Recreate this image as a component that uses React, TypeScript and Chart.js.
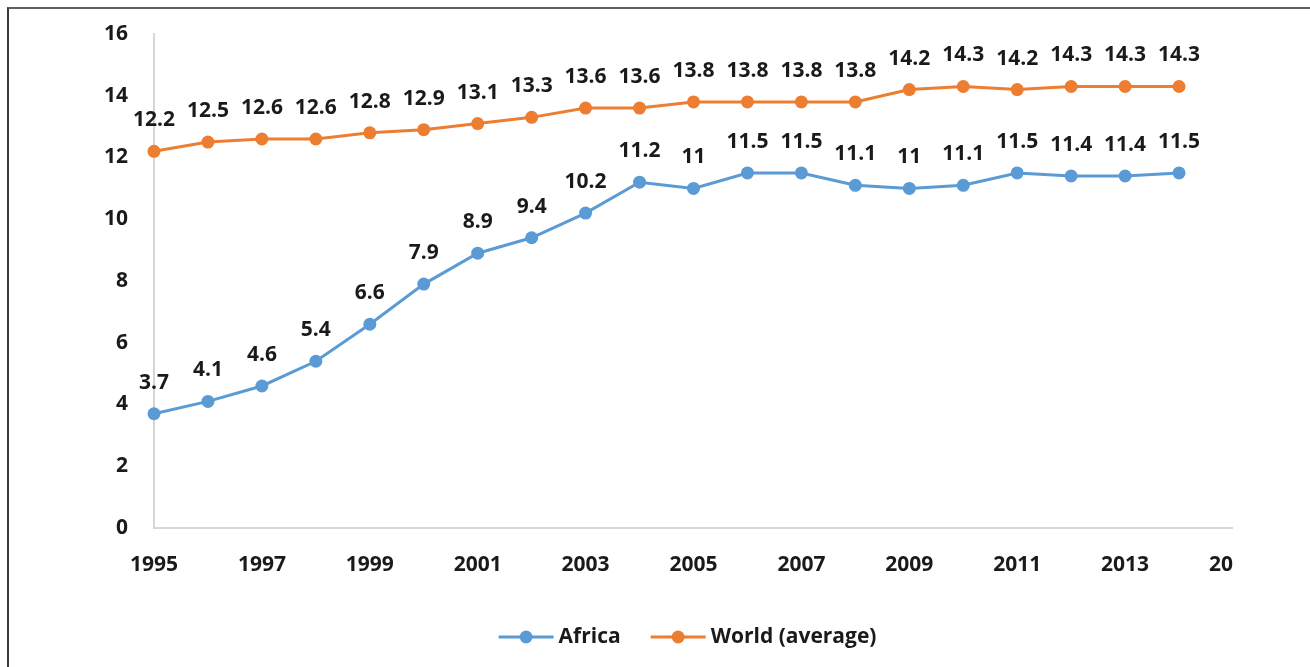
import { useEffect, useRef } from "react";
import { Chart, registerables } from "chart.js";

Chart.register(...registerables);

// Years covered by both series
const years = [
  1995, 1996, 1997, 1998, 1999, 2000, 2001, 2002, 2003, 2004,
  2005, 2006, 2007, 2008, 2009, 2010, 2011, 2012, 2013, 2014,
];

const africa = [
  3.7, 4.1, 4.6, 5.4, 6.6, 7.9, 8.9, 9.4, 10.2, 11.2,
  11, 11.5, 11.5, 11.1, 11, 11.1, 11.5, 11.4, 11.4, 11.5,
];

const worldAverage = [
  12.2, 12.5, 12.6, 12.6, 12.8, 12.9, 13.1, 13.3, 13.6, 13.6,
  13.8, 13.8, 13.8, 13.8, 14.2, 14.3, 14.2, 14.3, 14.3, 14.3,
];

const seriesNames = ["Africa", "World (average)"];
const seriesColors = ["#5B9BD5", "#ED7D31"];

const xRange = [1995, 2015];
const yRange = [0, 16];
const xStep = 2;
const yStep = 2;

const FONT = '"Open Sans", "Liberation Sans", sans-serif';
const TEXT_COLOR = "#1a1a1a";
const FONT_SIZE = 21;

// Writes each point's value just above its marker
const valueLabels = {
  id: "valueLabels",
  afterDatasetsDraw(chart: any) {
    const ctx = chart.ctx;
    ctx.save();
    ctx.font = `bold ${FONT_SIZE}px ${FONT}`;
    ctx.fillStyle = TEXT_COLOR;
    ctx.textAlign = "center";
    ctx.textBaseline = "middle";
    chart.data.datasets.forEach((ds: any, i: number) => {
      const meta = chart.getDatasetMeta(i);
      meta.data.forEach((pt: any, j: number) => {
        ctx.fillText(String(ds.data[j].y), pt.x, pt.y - 31);
      });
    });
    ctx.restore();
  },
};

// Line-with-marker legend centred under the plot
const lineLegend = {
  id: "lineLegend",
  afterDraw(chart: any) {
    const ctx = chart.ctx;
    const area = chart.chartArea;
    const lineLen = 55;
    const textGap = 5;
    const itemGap = 30;
    ctx.save();
    ctx.font = `bold ${FONT_SIZE}px ${FONT}`;
    const items = chart.data.datasets.map((ds: any) => ({
      label: ds.label,
      color: ds.borderColor,
      w: ctx.measureText(ds.label).width,
    }));
    const total =
      items.reduce((s: number, it: any) => s + lineLen + textGap + it.w, 0) +
      itemGap * (items.length - 1);
    const cx = (area.left + area.right) / 2 - 6;
    const cy = 637;
    let x = cx - total / 2;
    items.forEach((it: any) => {
      ctx.strokeStyle = it.color;
      ctx.lineWidth = 3;
      ctx.beginPath();
      ctx.moveTo(x, cy);
      ctx.lineTo(x + lineLen, cy);
      ctx.stroke();
      ctx.fillStyle = it.color;
      ctx.beginPath();
      ctx.arc(x + lineLen / 2, cy, 6.5, 0, Math.PI * 2);
      ctx.fill();
      x += lineLen + textGap;
      ctx.fillStyle = TEXT_COLOR;
      ctx.textAlign = "left";
      ctx.textBaseline = "middle";
      ctx.fillText(it.label, x, cy);
      x += it.w + itemGap;
    });
    ctx.restore();
  },
};

export default function App() {
  const canvasRef = useRef<HTMLCanvasElement>(null);

  useEffect(() => {
    if (!canvasRef.current) return;
    const seriesValues = [africa, worldAverage];
    const tickFont = { family: FONT, size: FONT_SIZE, weight: "bold" as const };
    const chart = new Chart(canvasRef.current, {
      type: "line",
      data: {
        datasets: seriesValues.map((vals, i) => ({
          label: seriesNames[i],
          data: vals.map((v, j) => ({ x: years[j], y: v })),
          borderColor: seriesColors[i],
          backgroundColor: seriesColors[i],
          pointBackgroundColor: seriesColors[i],
          pointBorderWidth: 0,
          pointRadius: 6.5,
          borderWidth: 3,
          tension: 0,
          clip: false as any,
        })),
      },
      options: {
        animation: false,
        responsive: false,
        devicePixelRatio: 1,
        layout: { padding: { left: 0, right: 77, top: 34, bottom: 0 } },
        plugins: {
          legend: { display: false },
          tooltip: { enabled: false },
        },
        scales: {
          x: {
            type: "linear",
            min: xRange[0],
            max: xRange[1],
            grid: { display: false, drawTicks: false },
            border: { display: true, color: "#d6d6d6", width: 2 },
            ticks: {
              stepSize: xStep,
              autoSkip: false,
              maxRotation: 0,
              padding: 24,
              color: TEXT_COLOR,
              font: tickFont,
              callback: (v: any) => String(v),
            },
            afterFit: (scale: any) => {
              scale.height = 139;
            },
          },
          y: {
            min: yRange[0],
            max: yRange[1],
            grid: { display: false, drawTicks: false },
            border: { display: true, color: "#d6d6d6", width: 2 },
            ticks: {
              stepSize: yStep,
              padding: 26,
              color: TEXT_COLOR,
              font: tickFont,
            },
            afterFit: (scale: any) => {
              scale.width = 154;
              scale.paddingTop = 0;
              scale.paddingBottom = 0;
            },
          },
        },
      },
      plugins: [valueLabels, lineLegend],
    });
    return () => chart.destroy();
  }, []);

  return (
    <div
      style={{
        position: "fixed",
        left: 0,
        top: 0,
        width: 1310,
        height: 667,
        background: "#ffffff",
        overflow: "hidden",
      }}
    >
      <div
        style={{
          position: "absolute",
          left: 0,
          top: 0,
          width: 1233,
          height: 667,
          overflow: "hidden",
        }}
      >
        <canvas
          ref={canvasRef}
          width={1310}
          height={667}
          style={{ display: "block", width: 1310, height: 667 }}
        />
      </div>
      <div
        style={{
          position: "absolute",
          left: 7,
          top: 7,
          width: 1320,
          height: 680,
          borderTop: "2px solid #5f5f5f",
          borderLeft: "2px solid #3a3a3a",
          pointerEvents: "none",
        }}
      />
    </div>
  );
}
